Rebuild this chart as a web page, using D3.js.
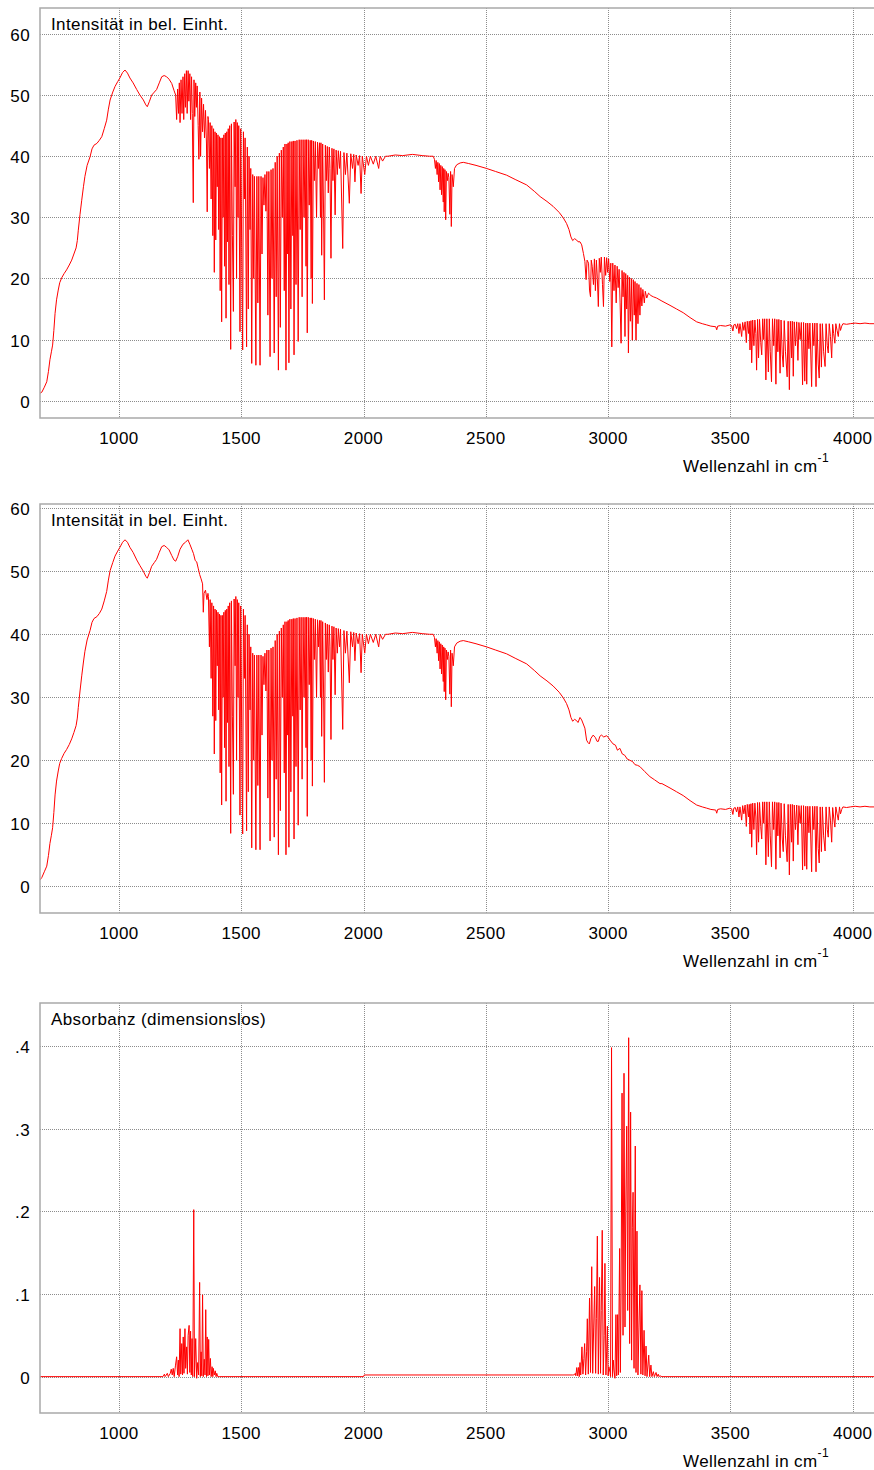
<!DOCTYPE html>
<html>
<head>
<meta charset="utf-8">
<script src="https://cdn.jsdelivr.net/npm/d3@7"></script>
<style>
  body { margin: 0; background: #fff; }
  text { font-family: "Liberation Sans", Arial, sans-serif; font-size: 17px; letter-spacing: 0.4px; fill: #000; }
</style>
</head>
<body>
<div id="chart"></div>
<script>
// wavenumber axis
const xTicks = [1000, 1500, 2000, 2500, 3000, 3500, 4000];
const intTicks = [0, 10, 20, 30, 40, 50, 60];
const absTicks = [0, 0.1, 0.2, 0.3, 0.4];

// sample spectrum, 677 - 1225 (smooth rise)
const lowA = [[677,1.2],[685,1.4],[695,2.2],[705,3.1],[712,4.8],[718,6.7],[724,8],[729,9.1],[734,11.5],[739,14.3],[745,16.5],[752,18.1],[758,19.3],[766,20.1],[776,20.8],[786,21.4],[797,22.2],[807,23],[816,24],[825,25],[830,26.2],[834,27.9],[841,30.5],[848,32.8],[855,35],[861,36.7],[870,38.5],[882,39.9],[890,41.2],[898,41.8],[910,42.1],[920,42.6],[930,43.2],[940,44.5],[950,45.9],[957,47.7],[964,49.2],[975,50.5],[984,51.4],[995,52.2],[1004,52.8],[1015,53.7],[1025,54.1],[1035,53.6],[1045,52.8],[1058,52],[1073,50.9],[1086,50],[1100,49.2],[1110,48.4],[1116,48.1],[1125,49],[1134,50],[1145,50.5],[1154,50.9],[1165,52],[1175,53],[1185,53.2],[1195,53],[1205,52.6],[1216,51.9],[1225,50.8]];

// sample spectrum, methane bending band 1230 - 1365
const ch4Low = [[1232,50],[1236,46],[1240,51],[1244,47],[1247,52],[1250,45.5],[1254,52.5],[1258,47],[1262,53],[1265,46],[1269,53.5],[1272,48],[1276,54],[1279,47],[1283,54],[1286,49],[1290,53.5],[1293,46],[1297,53],[1300,47],[1304,32.4],[1307,52.5],[1310,46.5],[1314,52],[1317,48],[1320,51.5],[1324,45],[1327,39.5],[1331,50.5],[1334,40],[1338,49.5],[1342,44],[1346,48.5],[1350,43],[1354,47.5],[1358,42],[1361,30.9],[1364,46.5]];

// background spectrum, 677 - 1365
const lowB = [[677,1.0],[685,1.4],[695,2.3],[705,3.2],[712,4.9],[718,6.8],[724,8.1],[729,9.3],[734,11.7],[739,14.5],[745,16.7],[752,18.3],[758,19.5],[766,20.3],[776,21.1],[786,21.7],[797,22.5],[807,23.4],[816,24.4],[825,25.5],[830,26.7],[834,28.4],[841,31],[848,33.4],[855,35.6],[861,37.3],[870,39.1],[882,40.6],[890,41.9],[898,42.5],[910,42.8],[920,43.3],[930,44],[940,45.3],[950,46.8],[957,48.6],[964,50.1],[975,51.4],[984,52.4],[995,53.2],[1004,53.8],[1015,54.6],[1025,55],[1035,54.6],[1045,53.8],[1058,53],[1073,51.8],[1086,50.9],[1100,50],[1110,49.2],[1116,48.9],[1125,49.8],[1134,50.8],[1145,51.4],[1154,51.9],[1165,53],[1175,53.9],[1185,54.1],[1195,53.8],[1205,53.4],[1216,52.5],[1225,51.8],[1232,51.6],[1240,52.3],[1250,53.5],[1262,54.3],[1272,54.6],[1282,55],[1290,54.3],[1298,53.5],[1305,52.8],[1312,51.7],[1318,51.5],[1324,50.5],[1330,49.5],[1336,48.8],[1342,48],[1345,43.5],[1348,46.5],[1354,47],[1360,45.5],[1364,46.5]];

// water bending band 1365 - 2090 (both spectra)
const water1 = [[1366,46],[1370,38],[1373,45.5],[1377,33],[1380,45],[1384,27],[1387,44.5],[1390,21],[1393,44],[1396,26.3],[1399,43.8],[1402,35],[1405,43.5],[1408,28],[1411,43.2],[1414,18],[1417,43],[1420,12.9],[1423,43],[1426,30],[1429,43.5],[1432,22],[1435,43.8],[1438,13.5],[1441,44],[1444,26],[1447,44.5],[1450,19],[1453,45],[1457,8.4],[1460,45.3],[1464,27],[1468,14.6],[1471,45.6],[1475,35],[1478,46],[1481,20],[1484,45.5],[1487,30],[1490,45],[1495,11.3],[1498,44.5],[1502,25],[1506,8.3],[1509,44],[1513,33],[1516,43],[1522,8.8],[1525,41.5],[1529,15],[1532,40],[1536,28],[1539,38],[1543,6.1],[1547,37],[1551,20],[1554,36.7],[1560,5.8],[1564,36.7],[1568,16],[1572,36.7],[1577,5.8],[1581,36.7],[1585,24],[1589,36.5],[1593,32],[1597,37],[1601,31],[1605,37.5],[1609,14],[1613,37.5],[1618,7.2],[1622,37.8],[1626,20],[1630,38],[1635,7.8],[1639,39],[1643,17],[1647,40],[1652,5],[1656,40.5],[1660,12],[1664,41],[1668,30],[1672,41.5],[1676,18],[1679,42],[1683,5],[1687,42],[1690,24],[1692,42.2],[1695,6.2],[1699,42.4],[1703,15],[1707,42.4],[1711,27],[1713,42.5],[1716,7.5],[1720,42.5],[1724,19],[1728,42.6],[1733,9.7],[1737,42.7],[1741,28],[1745,42.7],[1749,17],[1753,42.7],[1757,30],[1761,42.7],[1765,22],[1767,42.7],[1770,11.1],[1774,42.7],[1778,32],[1782,42.6],[1786,20],[1788,42.6],[1791,15.9],[1795,42.5],[1799,36],[1803,42.4],[1808,30],[1812,42.3],[1816,38],[1820,42.2],[1824,30],[1826,42.2],[1829,23.8],[1833,42],[1837,30],[1840,16.5],[1844,41.8],[1848,36],[1852,41.6],[1856,34],[1860,41.5],[1863,38],[1867,23.3],[1871,41.3],[1875,36],[1879,41.2],[1884,30.4],[1888,41],[1893,37],[1897,40.9],[1902,38],[1906,40.8],[1915,24.9],[1920,40.6],[1926,37],[1932,40.5],[1942,32.3],[1948,40.4],[1955,38],[1960,40.3],[1965,35.8],[1970,40.2],[1978,38.5],[1984,40.1],[1990,33.9],[1995,40],[2005,37],[2012,40],[2020,38.5],[2028,40],[2040,38.7],[2050,40],[2062,38],[2068,40],[2078,39.2],[2090,40]];

const plateau = [[2100,40],[2130,40.2],[2160,40.1],[2200,40.3],[2240,40.1],[2270,40]];

// CO2 band
const co2 = [[2285,40],[2290,39.5],[2294,38],[2297,39.3],[2301,37],[2304,39],[2307,35.8],[2310,38.8],[2313,34.5],[2316,38.5],[2319,33.7],[2322,38.3],[2326,32.5],[2328,38],[2330,30.9],[2333,37.8],[2336,29.6],[2339,37.5],[2343,36],[2346,37.2],[2349,36.5],[2353,30.5],[2356,37.5],[2359,28.5],[2362,37],[2367,35],[2372,38],[2381,38.6],[2395,38.9],[2408,39]];

const slope = [[2430,38.8],[2460,38.5],[2503,38],[2540,37.5],[2585,36.9],[2620,36.2],[2667,35.3],[2700,34.2],[2722,33.4],[2750,32.6],[2775,31.8],[2800,30.8],[2817,29.9],[2830,29],[2840,28],[2848,26.8],[2855,26.2],[2863,26.5],[2871,26.3],[2877,26]];

// sample spectrum, methane stretching band
const ch4High = [[2885,26],[2892,25.5],[2899,24.1],[2905,22.8],[2910,19.8],[2914,23],[2920,22.5],[2924,18.1],[2928,17],[2931,23],[2935,22],[2940,19],[2944,23.2],[2948,18],[2952,23],[2956,20],[2960,15.4],[2964,23.3],[2968,21],[2972,23.5],[2977,19],[2981,15.4],[2985,23.5],[2990,20.5],[2994,23.4],[2998,21],[3002,23.2],[3007,19.5],[3011,22.5],[3015,8.8],[3019,22.5],[3024,18],[3028,22.2],[3033,16],[3037,22],[3041,18.5],[3045,21.5],[3049,16],[3053,9.4],[3057,21.3],[3061,17],[3065,21],[3069,10.5],[3072,20.8],[3076,15],[3080,20.5],[3083,7.8],[3087,20.2],[3091,13],[3095,20],[3099,9.9],[3103,19.8],[3107,14],[3110,19.5],[3114,9.9],[3118,19.2],[3122,12.6],[3126,19],[3130,14],[3134,18.5],[3138,15.5],[3142,18.2],[3148,16],[3152,17.9],[3158,16.8],[3165,17.6],[3175,17.2],[3185,17],[3198,16.8]];

// background spectrum, same range
const bgHigh = [[2885,26.8],[2892,26.4],[2900,25.6],[2905,25.1],[2912,23.2],[2918,22.8],[2923,22.6],[2930,23.5],[2939,24],[2948,23.6],[2955,23],[2960,23],[2966,23.8],[2973,24],[2982,23.7],[2994,23.9],[3001,23.6],[3008,23.2],[3020,22.6],[3030,22.4],[3038,21.6],[3048,21.9],[3058,21],[3068,20.8],[3078,20.2],[3089,20],[3100,19.8],[3110,19.3],[3120,19.2],[3130,19],[3150,18.2],[3171,17.4],[3190,16.9],[3212,16.3]];

const tail = [[3220,16.3],[3253,15.6],[3280,15],[3307,14.4],[3335,13.6],[3362,12.9],[3385,12.6],[3403,12.4],[3420,12.2],[3440,12.1],[3444,11.6],[3448,12.2],[3460,12.3],[3480,12.2],[3498,12.4]];

// water stretching band (both spectra)
const waterHigh = [[3505,12.3],[3510,11.4],[3514,12.4],[3520,12.5],[3525,11.8],[3530,12.6],[3535,11],[3539,12.6],[3546,10.5],[3550,12.8],[3555,11.5],[3560,12.9],[3565,9.5],[3569,13],[3574,11],[3577,13],[3580,8.3],[3584,13.1],[3587,6.2],[3591,13.2],[3596,9],[3600,13.2],[3604,11],[3607,5],[3611,13.3],[3615,7],[3619,13.3],[3624,9.5],[3628,7.5],[3632,13.4],[3636,10],[3640,13.4],[3645,3.4],[3649,13.4],[3655,4.7],[3659,13.4],[3663,8],[3668,3.1],[3672,13.4],[3677,9],[3681,13.4],[3686,2.7],[3690,13.3],[3694,8],[3698,13.3],[3703,4.5],[3707,13.2],[3712,7.5],[3716,5.5],[3720,13.1],[3725,8],[3732,3.9],[3736,13],[3741,1.8],[3745,13],[3750,7],[3753,13],[3757,4],[3761,12.9],[3766,9],[3771,12.9],[3776,6.6],[3780,12.8],[3785,10],[3790,12.8],[3795,2.6],[3799,12.8],[3804,3.2],[3808,12.7],[3812,2.7],[3816,12.7],[3821,8.5],[3825,12.7],[3832,2.3],[3836,12.7],[3841,9],[3845,12.7],[3850,2.3],[3854,12.7],[3859,6],[3863,3.7],[3867,12.6],[3872,5.5],[3876,12.6],[3881,8],[3887,5.6],[3891,12.6],[3896,9],[3900,7.8],[3904,12.6],[3909,10.5],[3914,7],[3918,12.5],[3922,11],[3927,9.4],[3931,12.6],[3936,11.5],[3941,10.5],[3946,12.6],[3950,11.5],[3955,12.2],[3960,12.6],[3975,12.5],[3990,12.6],[4010,12.7],[4030,12.6],[4050,12.7],[4070,12.6],[4090,12.6]];

// absorbance
const absLow = [[677,0],[1180,0],[1186,0.003],[1189,0],[1198,0.004],[1202,0],[1210,0.004],[1214,0.009],[1218,0.002],[1222,0.01],[1226,0],[1231,0.013],[1236,0.024],[1240,0.002],[1243,0.02],[1246,0],[1250,0.058],[1253,0.003],[1257,0.04],[1260,0.002],[1263,0.048],[1266,0.004],[1270,0.058],[1273,0.01],[1277,0.036],[1280,0.003],[1283,0.05],[1287,0.062],[1290,0.005],[1293,0.055],[1296,0.002],[1299,0.046],[1302,0],[1306,0.202],[1309,0],[1314,0.046],[1318,-0.002],[1322,0.017],[1326,0.002],[1330,0.114],[1333,0],[1336,0.03],[1339,0.001],[1342,0.099],[1345,0],[1349,0.021],[1352,0.002],[1355,0.081],[1358,0],[1361,0.048],[1364,0.001],[1367,0.045],[1370,0.002],[1374,0.022],[1377,0],[1381,0.012],[1384,0],[1386,0.01],[1390,0.002],[1394,0.007],[1397,0],[1400,0.004],[1404,0],[1410,0]];
const absBase = [[2000,0],[2003,0.002],[2855,0.002]];
const absHigh = [[2860,0.002],[2866,0.004],[2868,0.001],[2872,0.011],[2875,0.001],[2879,0.011],[2882,0],[2885,0.017],[2888,0.002],[2893,0.036],[2897,0.003],[2901,0.022],[2904,0.04],[2908,0.002],[2912,0.03],[2915,0.07],[2919,0.003],[2924,0.095],[2928,0.005],[2933,0.133],[2937,0.004],[2941,0.06],[2945,0.109],[2949,0.004],[2952,0.07],[2956,0.17],[2960,0.003],[2965,0.12],[2969,0.004],[2972,0.08],[2976,0.177],[2980,0.002],[2984,0.05],[2987,0.137],[2991,0.002],[2994,0.03],[2997,0.061],[3000,0.001],[3003,0.012],[3008,0.005],[3010,0],[3014,0.398],[3018,0],[3021,0.02],[3024,0.008],[3028,-0.002],[3032,0.075],[3035,0.001],[3039,0.075],[3042,0.002],[3047,0.155],[3050,0.005],[3053,0.1],[3057,0.343],[3061,0.05],[3065,0.367],[3069,0.06],[3072,0.2],[3076,0.303],[3080,0.08],[3084,0.41],[3088,0.04],[3092,0.32],[3096,0.02],[3099,0.18],[3102,0.223],[3106,0.01],[3111,0.279],[3114,0.005],[3118,0.176],[3122,0.002],[3126,0.06],[3130,0.111],[3134,0.003],[3138,0.104],[3142,0.002],[3147,0.056],[3151,0.001],[3155,0.037],[3159,0],[3166,0.026],[3170,0],[3175,0.014],[3179,0],[3185,0.006],[3189,0],[3196,0.005],[3200,0],[3205,0.003],[3208,0],[3212,0.001],[3220,0],[4090,0]];

const sample = [].concat(lowA, ch4Low, water1, plateau, co2, slope, ch4High, tail, waterHigh);
const background = [].concat(lowB, water1, plateau, co2, slope, bgHigh, tail, waterHigh);
const absorbance = [].concat(absLow, absBase, absHigh);

const W = 874, H = 1470;
const left = 40, right = W;

const svg = d3.select("#chart").append("svg")
  .attr("width", W).attr("height", H);

const x = d3.scaleLinear().domain([677.4, 4087]).range([left, right]);

function drawPanel(cfg, i) {
  const y = d3.scaleLinear().domain(cfg.yDomain).range([cfg.bottom, cfg.top]);
  const g = svg.append("g");

  g.append("clipPath").attr("id", "clip" + i)
    .append("rect")
    .attr("x", left).attr("y", cfg.top)
    .attr("width", right - left).attr("height", cfg.bottom - cfg.top);

  // grid
  g.selectAll(".vg").data(xTicks).enter().append("line")
    .attr("x1", d => Math.round(x(d)) + 0.5).attr("x2", d => Math.round(x(d)) + 0.5)
    .attr("y1", cfg.top).attr("y2", cfg.bottom)
    .attr("stroke", "#8c8c8c").attr("stroke-dasharray", "1,1");
  g.selectAll(".hg").data(cfg.yTicks).enter().append("line")
    .attr("x1", left).attr("x2", right)
    .attr("y1", d => Math.round(y(d)) + 0.5).attr("y2", d => Math.round(y(d)) + 0.5)
    .attr("stroke", "#8c8c8c").attr("stroke-dasharray", "1,1");

  // spectrum
  const line = d3.line().x(d => x(d[0])).y(d => y(d[1]));
  g.append("path")
    .datum(cfg.data)
    .attr("clip-path", `url(#clip${i})`)
    .attr("fill", "none")
    .attr("stroke", "#ff0000")
    .attr("stroke-width", 1)
    .attr("d", line);

  // frame: left, top, bottom
  g.append("path")
    .attr("d", `M${right},${cfg.top}H${left}V${cfg.bottom}H${right}`)
    .attr("fill", "none").attr("stroke", "#a9a9a9").attr("stroke-width", 1.5);

  // tick labels
  g.selectAll(".yl").data(cfg.yTicks).enter().append("text")
    .attr("x", 30).attr("y", d => y(d) + 7)
    .attr("text-anchor", "end")
    .text(cfg.fmt);
  g.selectAll(".xl").data(xTicks).enter().append("text")
    .attr("x", d => x(d)).attr("y", cfg.bottom + 26)
    .attr("text-anchor", "middle")
    .text(d => d);

  g.append("text").attr("x", 51).attr("y", cfg.top + 21.5).text(cfg.label);

  const t = g.append("text").attr("x", 683).attr("y", cfg.bottom + 53.5);
  t.append("tspan").text("Wellenzahl in cm");
  t.append("tspan").attr("dy", -10).attr("font-size", "12px").text("-1");
}

const panels = [
  { top: 8, bottom: 418, yDomain: [-2.83, 64.25], yTicks: intTicks, fmt: d => d,
    label: "Intensität in bel. Einht.", data: sample },
  { top: 504, bottom: 913, yDomain: [-4.24, 60.68], yTicks: intTicks, fmt: d => d,
    label: "Intensität in bel. Einht.", data: background },
  { top: 1003, bottom: 1413, yDomain: [-0.044, 0.452], yTicks: absTicks,
    fmt: d => d === 0 ? "0" : d3.format(".1f")(d).replace(/^0/, ""),
    label: "Absorbanz (dimensionslos)", data: absorbance }
];

panels.forEach(drawPanel);
</script>
</body>
</html>
